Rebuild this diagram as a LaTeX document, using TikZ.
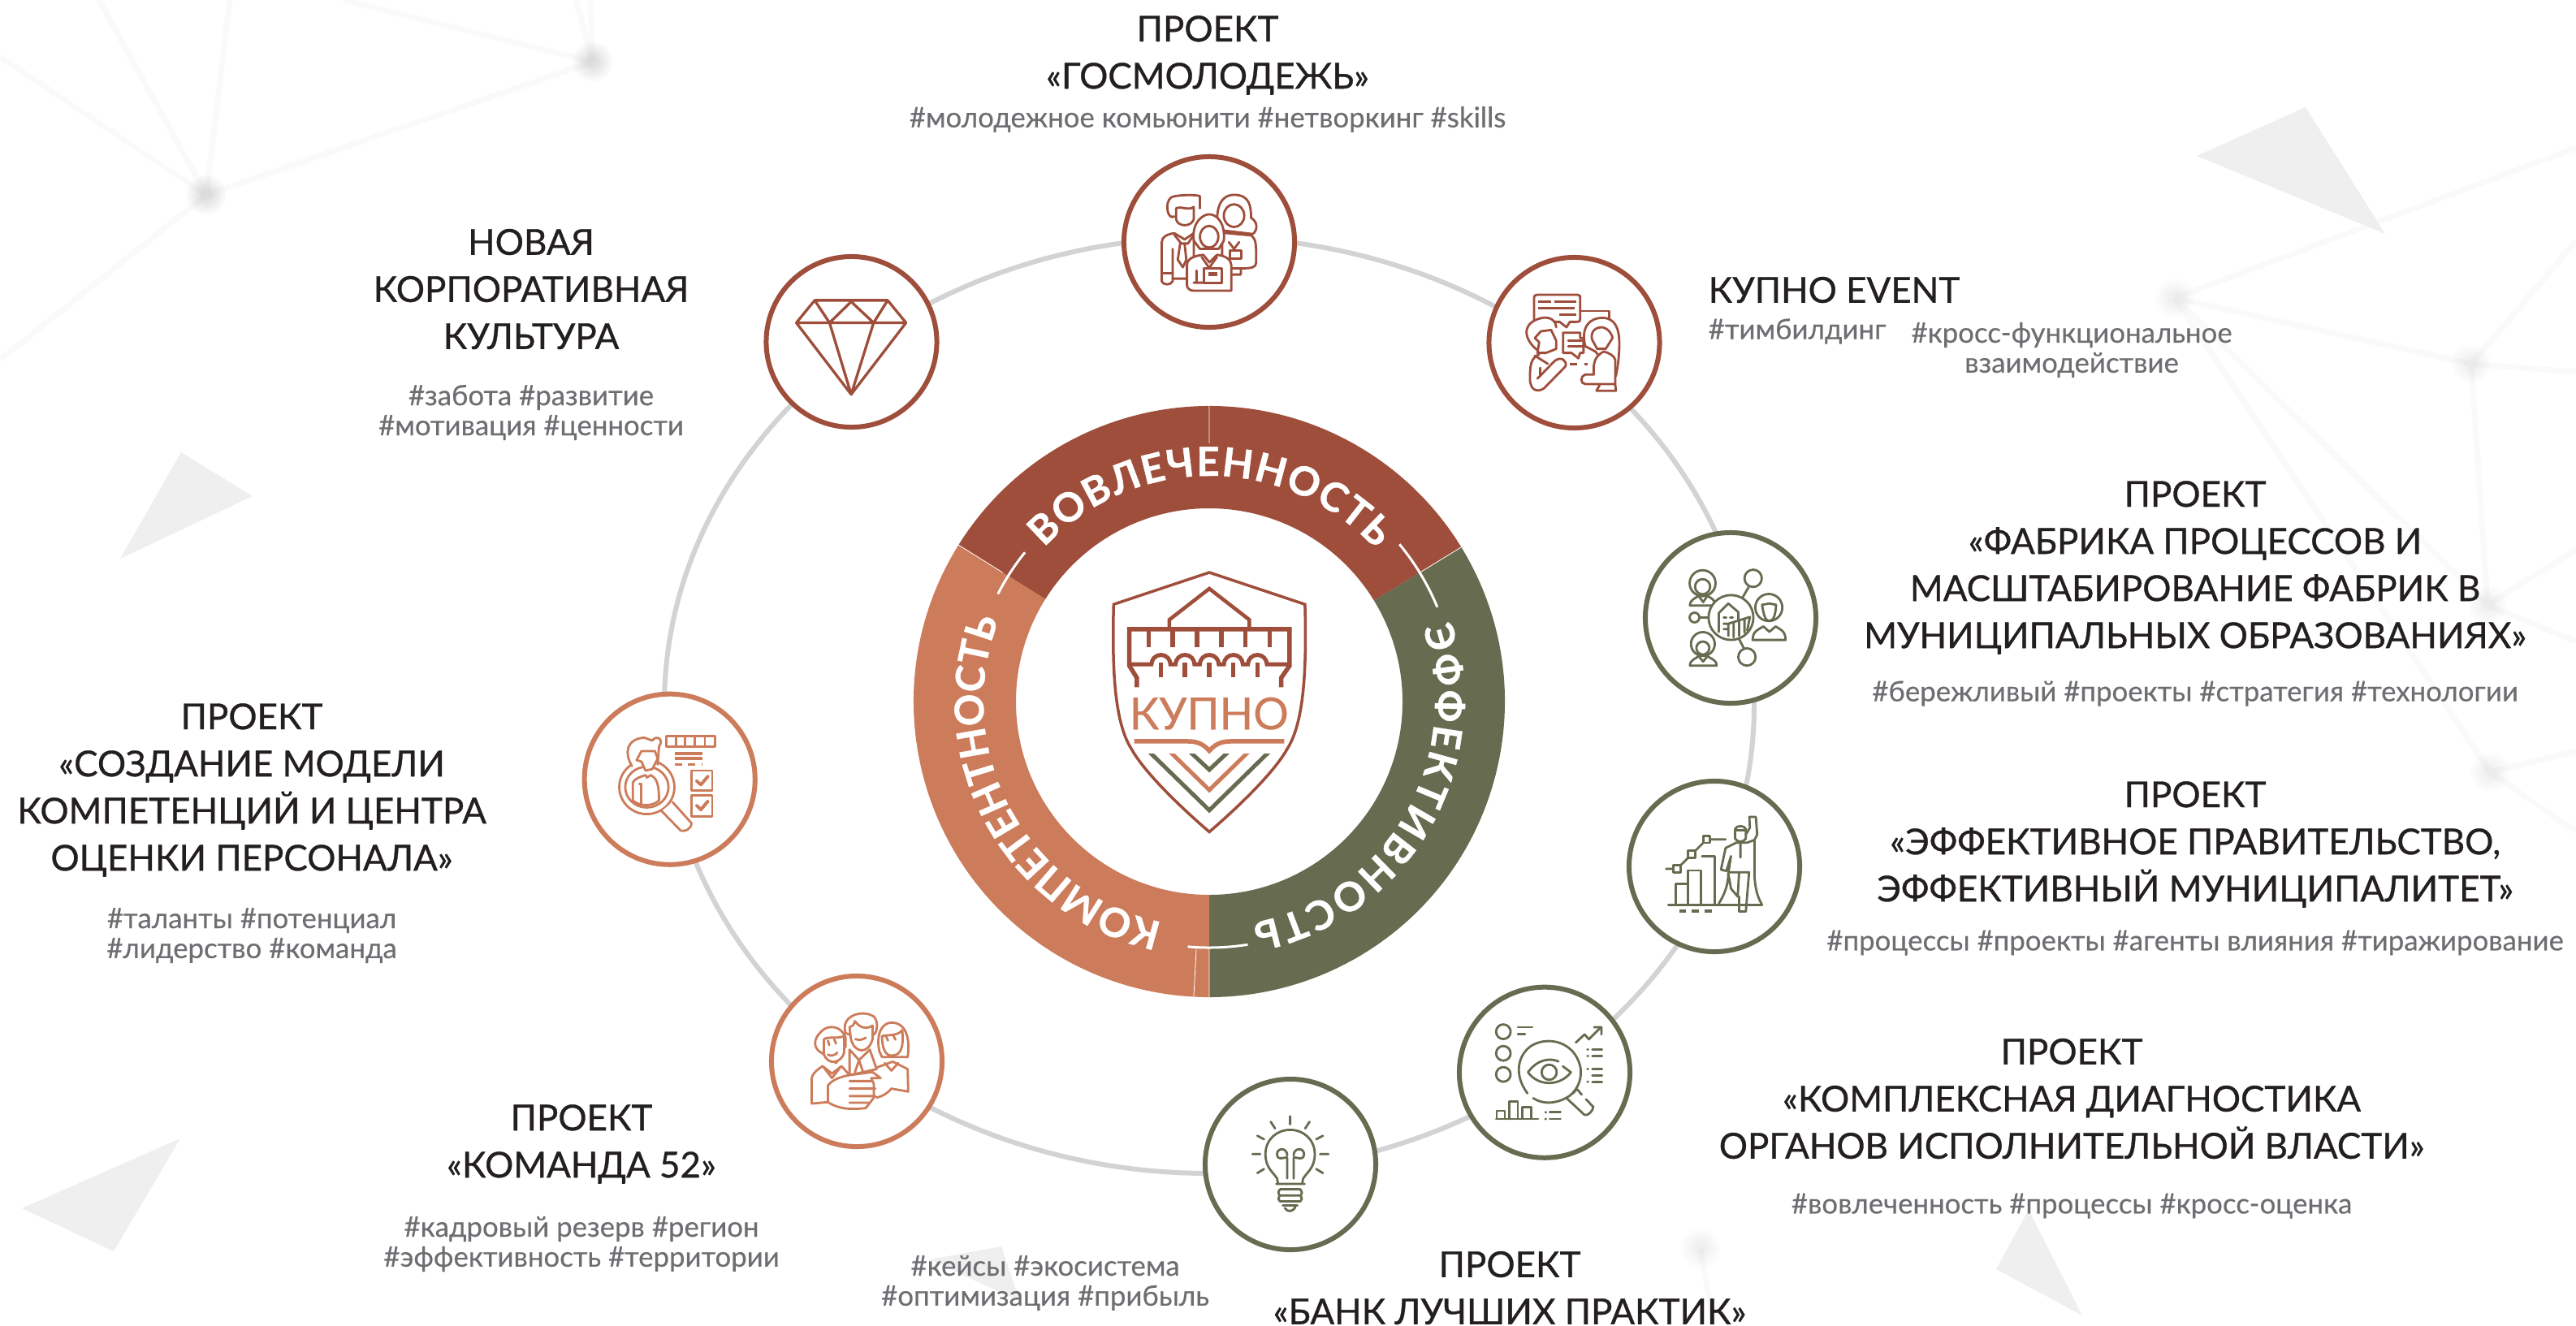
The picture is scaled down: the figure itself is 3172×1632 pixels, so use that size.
\documentclass[tikz,border=0pt]{standalone}
\usepackage{fontspec}
\setmainfont{Lato}
\newfontfamily\tf[FakeBold=0.7]{Lato}
\newfontfamily\hf[FakeBold=0.35]{Lato}
\newfontfamily\rf[FakeBold=0.9]{Lato}
\usetikzlibrary{decorations.text}
\definecolor{brick}{HTML}{9E4E3B}
\definecolor{terra}{HTML}{CC7C5A}
\definecolor{olive}{HTML}{676B4F}
\definecolor{ringg}{HTML}{D2D3D5}
\definecolor{ttl}{HTML}{231F20}
\definecolor{hsh}{HTML}{6D6E71}
\definecolor{tri}{HTML}{EFEFEF}
\definecolor{netc}{HTML}{FAFAFA}
\tikzset{
 ttlnode/.style={align=center,inner sep=0pt,text=ttl,font=\tf\fontsize{12.5pt}{16.5pt}\selectfont},
 hshnode/.style={align=center,inner sep=0pt,text=hsh,font=\hf\fontsize{9.9pt}{10.5pt}\selectfont},
 netl/.style={draw=netc,line width=.07cm},
 tricl/.style={fill=tri},
 badge/.style={draw=#1,fill=white,line width=.06cm,circle,minimum size=2.10cm,inner sep=0pt},
 ic/.style={draw=#1,fill=white,line width=.028cm,line join=round,line cap=round},
 il/.style={draw=#1,line width=.028cm,line join=round,line cap=round},
 ith/.style={draw=#1,line width=.05cm},
 ringtext/.style={decorate,decoration={text along path,text color=white,text align={fit to path},text={|\rf\bfseries\fontsize{14pt}{16pt}\selectfont|#1}}},
}
\begin{document}
\begin{tikzpicture}[x=.01cm,y=-.01cm]
\useasboundingbox (0,0) rectangle (3172,1632);
\fill[white] (0,0) rectangle (3172,1632);
% background network
\coordinate (n1) at (254,240); \coordinate (n2) at (730,76);
\coordinate (n3) at (2678,367); \coordinate (n4) at (3043,448);
\coordinate (n5) at (3063,745); \coordinate (n6) at (3066,951); \coordinate (n7) at (2094,1537);
\draw[netl] (n1)--(122,0) (n1)--(283,0) (n1)--(0,70) (n1)--(0,443) (n1)--(n2)
 (n2)--(423,0) (n2)--(709,0) (n2)--(727,0);
\draw[netl] (n3)--(3172,182) (n3)--(n4) (n4)--(3172,458) (n4)--(3172,297) (n4)--(n5)
 (n3)--(n6) (n3)--(n5) (n6)--(3172,1024) (n6)--(3172,925) (n5)--(3172,677) (n5)--(3172,790)
 (n7)--(2110,1632);
\foreach \p in {n1,n2}{
 \foreach \r in {24,20,16,12,8}{\fill[black,opacity=.022] (\p) circle (\r);}}
\foreach \p in {n3,n4,n5,n6,n7}{
 \foreach \r in {24,20,16,12,8}{\fill[black,opacity=.012] (\p) circle (\r);}}
\fill[tricl] (223,557)--(311,611)--(148,688)--cycle;
\fill[tricl] (222,1402)--(27,1488)--(140,1541)--cycle;
\fill[tricl] (2839,132)--(2705,192)--(2937,288)--cycle;
\fill[tricl] (2498,1490)--(2458,1563)--(2564,1620)--cycle;
\fill[tricl] (1233,1535)--(1145,1551)--(1256,1603)--cycle;
% big ring
\draw[ringg,line width=.06cm] (1489,868.5) ellipse (671 and 576.5);
% central ring
\begin{scope}[shift={(1489,864)},x=.01cm,y=.01cm]
\fill[brick] (148:364) arc (148:31.5:364) -- (31.5:238) arc (31.5:148:238) -- cycle;
\fill[olive] (31.5:364) arc (31.5:-90:364) -- (-90:238) arc (-90:31.5:238) -- cycle;
\fill[terra] (148:364) arc (148:270:364) -- (270:238) arc (270:148:238) -- cycle;
\draw[white,line width=.008cm] (90:364)--(90:318) (148:364)--(148:300) (31.5:364)--(31.5:305) (-90:364)--(-90:305) (-93:364)--(-93:305);
\draw[white,line width=.03cm] (39.6:304) arc (39.6:22.5:304);
\draw[white,line width=.03cm] (141:292) arc (141:153:292);
\draw[white,line width=.03cm] (-95:303) arc (-95:-81:303);
\path[ringtext={ВОВЛЕЧЕННОСТЬ}] (137:278) arc (137:42.5:278);
\path[ringtext={ЭФФЕКТИВНОСТЬ}] (19:278) arc (19:-79:278);
\path[ringtext={КОМПЕТЕНТНОСТЬ}] (258:278) arc (258:159:278);
\end{scope}
% logo
\begin{scope}[shift={(1340,690)},x=.003333cm,y=-.003333cm]
\draw[brick,line width=.035cm,line join=miter] (448,45) -- (802,163) .. controls (808,400) and (800,600) .. (735,700) .. controls (690,780) and (570,900) .. (448,1005) .. controls (326,900) and (206,780) .. (161,700) .. controls (96,600) and (88,400) .. (94,163) -- cycle;
\draw[brick,line width=.045cm] (300,248) -- (300,220) -- (448,105) -- (596,220) -- (596,248);
\draw[brick,line width=.055cm] (180,470) -- (180,435) -- (152,390) -- (152,255) -- (745,255) -- (745,390) -- (714,435) -- (714,470);
\foreach \x in {224,313,403,492,582,671}{\draw[brick,line width=.055cm] (\x,255)--(\x,322);}
\draw[brick,line width=.05cm] (152,385) -- (234,385) arc (180:360:35) -- (323,385) arc (180:360:35) -- (413,385) arc (180:360:35) -- (502,385) arc (180:360:35) -- (591,385) arc (180:360:35) -- (745,385);
\foreach \x in {269,358,448,537,626}{\draw[brick,line width=.055cm] (\x,378)--(\x,432);}
\node[text=terra,inner sep=0pt,font=\hf\fontsize{15.5pt}{16pt}\selectfont] (kupno) at (447,567) {КУПНО};
\draw[terra,line width=.055cm] (170,670) -- (370,670) .. controls (410,670) and (430,685) .. (448,705) .. controls (466,685) and (486,670) .. (526,670) -- (725,670);
\begin{scope}
\clip (0,718) rectangle (900,1020);
\draw[olive,line width=.05cm] (215,698)--(448,925)--(680,698);
\draw[terra,line width=.05cm] (292,698)--(448,850)--(604,698);
\draw[olive,line width=.05cm] (365,698)--(448,775)--(530,698);
\end{scope}
\end{scope}
% badges
\node[badge=brick] (b1) at (1489,298) {};
\node[badge=brick] (b2) at (1938.5,422) {};
\node[badge=olive] (b3) at (2131,761) {};
\node[badge=olive] (b4) at (2111,1067) {};
\node[badge=olive] (b5) at (1902,1320.7) {};
\node[badge=olive] (b6) at (1589,1434) {};
\node[badge=terra] (b7) at (1055,1307) {};
\node[badge=terra] (b8) at (824.7,959.7) {};
\node[badge=brick] (b9) at (1048.5,421) {};
% diamond
\begin{scope}[shift={(900,280)},x=.003333cm,y=-.003333cm]
\draw[brick,line width=.033cm,line join=round] (310,270) -- (580,270) -- (648,353) -- (445,618) -- (242,353) -- cycle (242,353)--(648,353) (310,270)--(365,353)--(445,275)--(528,353)--(580,270) (365,353)--(445,618)--(528,353);
\end{scope}
% team and event
\begin{scope}[shift={(1360,200)},x=.0042cm,y=-.003333cm]
% left man
\draw[ic=brick] (168,440) -- (168,295) .. controls (168,275) and (185,265) .. (205,262) -- (235,285) -- (262,262) -- (262,430) -- (200,430) -- (200,440) .. controls (195,455) and (172,455) .. (168,440) -- cycle;
\draw[il=brick] (200,320)--(200,430) (168,410)--(200,410) (222,300)--(215,360)--(230,388)--(240,360)--(235,300) (205,268)--(225,300)--(245,300)--(262,268);
\draw[ic=brick] (205,200) .. controls (185,215) and (175,150) .. (195,130) .. controls (205,120) and (270,118) .. (280,125) -- (280,170);
\draw[ic=brick] (210,170) -- (210,210) .. controls (215,240) and (255,240) .. (262,210) -- (262,165) .. controls (245,180) and (225,160) .. (210,170) -- cycle;
% right woman
\draw[ic=brick] (345,260) -- (430,270) .. controls (445,285) and (445,300) .. (445,370) .. controls (445,390) and (430,392) .. (400,392) -- (345,392) -- cycle;
\draw[il=brick] (365,295)--(380,320)--(395,295) (400,392)--(400,415)--(375,415);
\draw[ic=brick] (368,325) rectangle (402,355);
\draw[ic=brick] (335,250) .. controls (325,200) and (330,120) .. (380,120) .. controls (425,120) and (430,160) .. (430,205) .. controls (450,220) and (450,250) .. (435,265) -- cycle;
\draw[ic=brick] (380,197) ellipse (30 and 42);
% centre woman
\draw[ic=brick] (262,290) .. controls (255,220) and (290,192) .. (307,192) .. controls (330,192) and (355,225) .. (350,290) -- (335,320) -- (280,320) -- cycle;
\draw[ic=brick] (307,275) ellipse (27 and 40);
\draw[ic=brick] (242,380) .. controls (242,355) and (265,345) .. (290,342) -- (308,370)-- (330,342) .. controls (355,345) and (372,360) .. (372,380) -- (372,475) -- (262,475) .. controls (250,475) and (242,465) .. (242,455) -- cycle;
\draw[il=brick] (285,350)--(307,390)--(330,350) (270,400)--(270,445) (262,445)--(345,445);
\draw[ic=brick] (292,392) rectangle (345,445);
\draw[ith=brick] (305,412)--(330,412);
% event
\draw[ic=brick] (1268,490) -- (1388,490) .. controls (1395,490) and (1395,495) .. (1395,500) -- (1395,580) .. controls (1395,590) and (1390,590) .. (1385,590) -- (1365,590) -- (1355,610) -- (1335,590) -- (1268,590) .. controls (1260,590) and (1260,585) .. (1260,575) -- (1260,500) .. controls (1260,495) and (1262,490) .. (1268,490) -- cycle;
\draw[ith=brick,line width=.035cm] (1273,516)--(1310,516) (1320,516)--(1383,516) (1273,540)--(1380,540) (1335,563)--(1383,563);
\draw[il=brick] (1395,550)--(1480,550)--(1480,578);
\draw[ic=brick] (1345,630) -- (1395,630) -- (1395,650) -- (1405,650) -- (1405,705) -- (1395,705) -- (1390,725) -- (1370,705) -- (1345,705) -- cycle;
\draw[il=brick] (1360,660)--(1400,660) (1360,680)--(1410,680);
\draw[ith=brick,line width=.03cm,dash pattern=on 2.5pt off 2.5pt] (1365,748)--(1418,748);
\draw[ic=brick] (1270,695) .. controls (1225,650) and (1225,590) .. (1285,575) .. controls (1310,570) and (1325,590) .. (1325,610);
\draw[ic=brick] (1280,625) -- (1310,620) -- (1325,660) -- (1325,690) -- (1295,705) -- (1270,705) -- (1275,665) -- (1262,650) -- cycle;
\draw[ic=brick] (1275,710) .. controls (1250,725) and (1248,750) .. (1248,800) .. controls (1248,850) and (1275,850) .. (1290,835) -- (1352,755) .. controls (1358,735) and (1340,715) .. (1320,735) -- (1270,800);
\draw[il=brick] (1278,760)--(1278,790) (1262,715)--(1300,745);
\draw[ic=brick] (1410,680) .. controls (1395,600) and (1430,575) .. (1460,575) .. controls (1500,575) and (1510,620) .. (1510,670) .. controls (1510,720) and (1505,760) .. (1500,790) -- (1440,700) -- cycle;
\draw[ic=brick] (1430,655) .. controls (1425,625) and (1440,610) .. (1460,610) .. controls (1480,615) and (1490,640) .. (1490,650) -- (1470,690) -- (1445,690) -- cycle;
\draw[ic=brick] (1465,700) .. controls (1430,720) and (1435,760) .. (1435,785) -- (1410,785) .. controls (1395,790) and (1395,820) .. (1410,820) -- (1498,820) -- (1498,730) .. controls (1495,715) and (1480,705) .. (1465,700) -- cycle;
\draw[il=brick] (1443,845)--(1500,845)--(1498,820) (1443,845)--(1452,825);
\end{scope}
% factory and chart
\begin{scope}[shift={(2000,630)},x=.003333cm,y=-.003333cm]
\draw[il=olive] (460,280)--(438,318) (425,472)--(445,510) (278,392)--(312,392);
\draw[ic=olive] (477,247) circle (32);
\draw[ic=olive] (454,538) circle (32);
\draw[ic=olive] (260,392) circle (18);
\draw[ic=olive] (290,265) circle (48) ;
\draw[ic=olive] (290,278) circle (28);
\draw[ic=olive] (243,348) .. controls (243,325) and (265,320) .. (275,312) -- (292,335) -- (308,312) .. controls (320,320) and (337,325) .. (337,348) -- cycle;
\draw[ic=olive] (535,355) circle (50);
\draw[ic=olive] (510,345) .. controls (515,375) and (520,405) .. (537,405) .. controls (555,405) and (560,375) .. (562,345) -- (537,340) -- cycle;
\draw[ic=olive] (475,475) .. controls (475,440) and (500,435) .. (515,425) -- (537,445) -- (560,425) .. controls (575,435) and (597,440) .. (597,475) -- cycle;
\draw[ic=olive] (291,490) circle (44);
\draw[ic=olive] (291,505) circle (24);
\draw[ic=olive] (243,570) .. controls (243,548) and (265,545) .. (275,535) -- (292,555) -- (308,535) .. controls (320,545) and (342,548) .. (342,570) -- cycle;
\draw[ic=olive] (395,392) circle (83);
\draw[il=olive] (350,375)--(385,340)--(422,372) (350,375)--(350,445) (422,372)--(422,405) (368,392)--(378,392) (392,392)--(402,392) (368,415)--(380,415) (368,435)--(380,435) (385,460)--(385,415)--(465,390)--(455,440) (405,410)--(405,465) (425,405)--(425,460) (445,400)--(445,448);
% chart
\draw[il=olive] (163,1455)--(510,1455);
\draw[il=olive] (190,1455)--(190,1378)--(235,1378)--(235,1455) (235,1328)--(285,1328)--(285,1455) (288,1275)--(335,1275)--(335,1455) (235,1378)--(235,1328);
\draw[il=olive] (155,1322)--(195,1322)--(250,1268)--(305,1213)--(375,1213);
\foreach \p in {(195,1322),(250,1268),(305,1213)}{\draw[ic=olive] \p ++(-13,-13) rectangle ++(26,26);}
\draw[ith=olive,line width=.035cm,line cap=butt] (203,1478)--(227,1478) (250,1478)--(275,1478) (298,1478)--(323,1478);
\draw[ic=olive] (410,1175) .. controls (415,1160) and (445,1160) .. (450,1175) -- (450,1210) .. controls (440,1225) and (420,1225) .. (410,1210) -- cycle;
\draw[il=olive] (410,1180)--(450,1180);
\draw[il=olive] (450,1195)--(465,1170)--(463,1130)--(487,1130)--(492,1195)--(482,1215)--(482,1350) .. controls (485,1400) and (495,1430) .. (510,1455) (482,1215)--(455,1225)--(415,1225)--(375,1245)--(358,1325)--(378,1330)--(395,1275)--(385,1340)  .. controls (385,1380) and (370,1420) .. (350,1450) (385,1340)--(395,1395)--(420,1425)--(425,1335)--(462,1335)--(450,1480)--(425,1480)--(425,1425) (430,1225)--(430,1280) (385,1335)--(462,1335);
\end{scope}
% eye and bulb
\begin{scope}[shift={(1460,1200)},x=.003571cm,y=-.003333cm]
\foreach \y in {212,292,370}{\draw[il=olive] (1095,\y) ellipse (25 and 27);}
\draw[il=olive] (1145,195)--(1195,195) (1145,220)--(1170,220);
\draw[il=olive] (1178,440) .. controls (1130,370) and (1145,300) .. (1190,265) .. controls (1250,225) and (1340,250) .. (1360,340) .. controls (1370,390) and (1345,440) .. (1310,458) .. controls (1270,480) and (1230,480) .. (1198,458);
\draw[il=olive] (1315,460)--(1375,520) .. controls (1385,525) and (1405,505) .. (1405,490) -- (1380,462) (1335,440)--(1348,425) (1350,425)--(1365,445);
\draw[il=olive] (1300,340) -- (1328,362) .. controls (1290,415) and (1215,415) .. (1180,362) .. controls (1215,310) and (1260,310) .. (1285,322);
\draw[il=olive] (1253,362) ellipse (26 and 28);
\draw[il=olive] (1345,252)--(1375,222)--(1390,240)--(1430,197) (1408,195)--(1433,195)--(1433,222);
\foreach \y in {278,302,350,373,397}{\draw[il=olive] (1402,\y)--(1435,\y);}
\foreach \y in {278,302,350,397}{\fill[olive] (1386,\y) circle (5);}
\draw[il=olive] (1070,535)--(1215,535) (1072,535)--(1072,505)--(1100,505)--(1100,535) (1115,535)--(1115,470)--(1145,470)--(1145,535) (1160,535)--(1160,490)--(1190,490)--(1190,535);
\draw[il=olive] (1255,510)--(1292,510) (1255,535)--(1292,535);
\fill[olive] (1241,510) circle (5) (1241,535) circle (5);
% bulb
\draw[il=olive] (318,772) -- (315,755) .. controls (300,730) and (275,715) .. (275,665) .. controls (275,610) and (315,575) .. (360,575) .. controls (405,575) and (445,610) .. (445,665) .. controls (445,715) and (420,730) .. (405,755) -- (402,772);
\draw[il=olive] (350,755)--(350,680) .. controls (350,670) and (315,695) .. (315,665) .. controls (315,640) and (350,640) .. (350,670) (372,755)--(372,680) .. controls (372,670) and (408,695) .. (408,665) .. controls (408,640) and (372,640) .. (372,670);
\draw[il=olive] (312,775)--(410,775) (325,795)--(395,795) (325,818)--(395,818) (325,840)--(395,840) (325,795) .. controls (318,805) and (318,812) .. (325,818) (395,795) .. controls (402,805) and (402,812) .. (395,818) (325,818) .. controls (318,828) and (318,835) .. (325,840) (395,818) .. controls (402,828) and (402,835) .. (395,840) (335,855)--(385,855) (342,865) .. controls (350,880) and (370,880) .. (378,860);
\draw[il=olive] (360,525)--(360,555) (293,545)--(308,570) (427,545)--(412,570) (247,597)--(270,610) (473,597)--(450,610) (230,665)--(257,665) (463,665)--(492,665) (247,735)--(270,720) (473,735)--(450,720);
\end{scope}
% model and team52
\begin{scope}[shift={(700,840)},x=.003333cm,y=-.0037cm]
\draw[il=terra] (290,350) ellipse (102 and 90);
\draw[il=terra] (290,350) ellipse (80 and 68);
\draw[ic=terra] (345,430)--(415,495) .. controls (430,500) and (455,490) .. (455,470) -- (385,400);
\draw[ic=terra] (235,280) .. controls (205,235) and (215,190) .. (280,185) -- (310,195) .. controls (325,175) and (355,190) .. (335,215) -- (330,275);
\draw[ic=terra] (270,230) -- (320,230) -- (330,255) -- (310,290) -- (285,295) -- (270,265) -- (252,260) -- cycle;
\draw[ic=terra] (238,395) -- (238,335) .. controls (245,320) and (270,315) .. (285,310) -- (290,318) -- (305,310) .. controls (320,320) and (335,325) .. (335,395) .. controls (310,415) and (265,415) .. (238,395) -- cycle;
\draw[il=terra] (270,340)--(270,410) (262,340)--(270,340);
\draw[il=terra] (362,180) rectangle (543,215);
\foreach \x in {397,432,467,505}{\draw[il=terra] (\x,180)--(\x,215);}
\draw[ith=terra,line width=.035cm] (393,238)--(497,238) (393,255)--(497,255);
\draw[ith=terra,line width=.035cm,dash pattern=on 2.5pt off 2.2pt] (393,275)--(497,275);
\draw[il=terra] (455,295) rectangle (532,362) (455,378) rectangle (532,447);
\draw[il=terra,line width=.04cm] (475,330)--(490,342)--(515,315) (475,412)--(490,425)--(515,398);
% team52
\draw[ic=terra] (1140,1285) -- (1200,1265) -- (1255,1290) -- (1257,1365) -- (1195,1355);
\draw[il=terra] (1170,1270)--(1195,1295)--(1220,1270) ;
\draw[ic=terra] (1150,1230) .. controls (1135,1160) and (1170,1135) .. (1195,1135) .. controls (1250,1135) and (1265,1190) .. (1255,1250) -- (1230,1250) -- (1160,1250) -- cycle;
\draw[ic=terra] (1160,1180) .. controls (1180,1175) and (1220,1180) .. (1235,1160) .. controls (1240,1210) and (1235,1245) .. (1195,1245) .. controls (1170,1245) and (1160,1215) .. (1160,1180);
\draw[il=terra] (1175,1180)--(1182,1195) (1200,1175)--(1210,1192);
\draw[ic=terra] (1040,1225) -- (1075,1260) -- (1115,1225) -- (1140,1290) -- (1040,1310) -- cycle;
\draw[il=terra] (1075,1260)--(1060,1300) (1075,1260)--(1090,1300);
\draw[ic=terra] (1025,1170) .. controls (1005,1110) and (1090,1090) .. (1130,1115) .. controls (1150,1135) and (1140,1170) .. (1130,1175) -- (1040,1175) -- cycle;
\draw[ic=terra] (1040,1150) -- (1045,1190) .. controls (1060,1240) and (1110,1240) .. (1125,1190) -- (1125,1145) .. controls (1100,1160) and (1075,1150) .. (1060,1130) .. controls (1055,1145) and (1048,1150) .. (1040,1150);
\draw[il=terra] (1062,1190) .. controls (1075,1195) and (1090,1192) .. (1100,1185);
\draw[ic=terra] (935,1235) .. controls (905,1220) and (905,1190) .. (935,1165) .. controls (960,1140) and (1010,1145) .. (1025,1185) -- (1025,1215) -- (990,1270) -- cycle;
\draw[ic=terra] (945,1190) -- (945,1240) .. controls (960,1280) and (1010,1270) .. (1020,1235) -- (1020,1180) .. controls (995,1190) and (965,1180) .. (945,1190);
\draw[il=terra] (960,1242) .. controls (970,1248) and (985,1245) .. (995,1235) (960,1195)--(965,1210) (983,1190)--(990,1205);
\draw[ic=terra] (900,1405) -- (900,1320) .. controls (905,1300) and (925,1290) .. (940,1280) -- (975,1305) -- (1010,1280) -- (1040,1310) -- (1040,1330) -- (960,1345) -- (960,1400) -- cycle;
\draw[il=terra] (945,1285)--(975,1320) (1005,1285)--(975,1320);
\draw[ic=terra] (960,1400) -- (960,1345) .. controls (975,1325) and (1010,1315) .. (1040,1310) -- (1125,1300) -- (1155,1320) -- (1120,1320) -- (1130,1340) -- (1130,1385) -- (1100,1420) .. controls (1050,1425) and (1000,1425) .. (960,1400) -- cycle;
\draw[il=terra] (1040,1330)--(1120,1330) (1040,1355)--(1135,1355) (1040,1380)--(1135,1380) (1040,1402)--(1110,1402) (1140,1385) .. controls (1165,1380) and (1180,1370) .. (1195,1355);
\end{scope}
% labels
\node[ttlnode] (tA) at (1487,68) {ПРОЕКТ\\«ГОСМОЛОДЕЖЬ»};
\node[hshnode] (hA) at (1487,147) {\#молодежное комьюнити \#нетворкинг \#skills};
\node[ttlnode,anchor=west] (tB) at (2103,357) {КУПНО EVENT};
\node[hshnode,anchor=west] (hB) at (2103,408) {\#тимбилдинг};
\node[hshnode] (hBB) at (2551,431) {\#кросс-функциональное\\взаимодействие};
\node[ttlnode] (tC) at (2703,699) {ПРОЕКТ\\«ФАБРИКА ПРОЦЕССОВ И\\МАСШТАБИРОВАНИЕ ФАБРИК В\\МУНИЦИПАЛЬНЫХ ОБРАЗОВАНИЯХ»};
\node[hshnode] (hC) at (2703,854) {\#бережливый \#проекты \#стратегия \#технологии};
\node[ttlnode] (tD) at (2703,1040) {ПРОЕКТ\\«ЭФФЕКТИВНОЕ ПРАВИТЕЛЬСТВО,\\ЭФФЕКТИВНЫЙ МУНИЦИПАЛИТЕТ»};
\node[hshnode] (hD) at (2703,1161) {\#процессы \#проекты \#агенты влияния \#тиражирование};
\node[ttlnode] (tE) at (2551,1353) {ПРОЕКТ\\«КОМПЛЕКСНАЯ ДИАГНОСТИКА\\ОРГАНОВ ИСПОЛНИТЕЛЬНОЙ ВЛАСТИ»};
\node[hshnode] (hE) at (2551,1485) {\#вовлеченность \#процессы \#кросс-оценка};
\node[ttlnode] (tF) at (1859,1586) {ПРОЕКТ\\«БАНК ЛУЧШИХ ПРАКТИК»};
\node[hshnode] (hF) at (1287,1580) {\#кейсы \#экосистема\\\#оптимизация \#прибыль};
\node[ttlnode] (tG) at (716,1409) {ПРОЕКТ\\«КОМАНДА 52»};
\node[hshnode] (hG) at (716,1532) {\#кадровый резерв \#регион\\\#эффективность \#территории};
\node[ttlnode] (tH) at (310,973) {ПРОЕКТ\\«СОЗДАНИЕ МОДЕЛИ\\КОМПЕТЕНЦИЙ И ЦЕНТРА\\ОЦЕНКИ ПЕРСОНАЛА»};
\node[hshnode] (hH) at (310,1152) {\#таланты \#потенциал\\\#лидерство \#команда};
\node[ttlnode] (tI) at (654,356) {НОВАЯ\\КОРПОРАТИВНАЯ\\КУЛЬТУРА};
\node[hshnode] (hI) at (654,508) {\#забота \#развитие\\\#мотивация \#ценности};
\end{tikzpicture}
\end{document}
